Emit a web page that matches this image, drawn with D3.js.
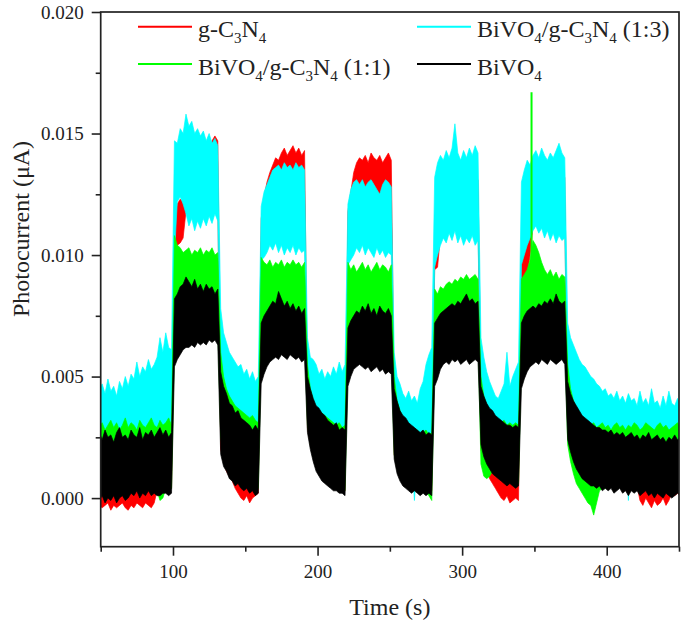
<!DOCTYPE html>
<html><head><meta charset="utf-8">
<script src="https://cdn.jsdelivr.net/npm/d3@7"></script>
<style>
body{margin:0;background:#fff}
text{font-family:"Liberation Serif","Times New Roman",serif;fill:#222;white-space:pre}
</style>
</head><body>
<svg id="chart" width="685" height="626"></svg>
<script>
// ---------- DATA (time in s, photocurrent in µA; each series given as lower / upper envelope of its noisy trace) ----------
const time = [
 49,51,53,55,57,59,61,63,65,67,69,71,73,75,77,79,81,83,85,87,89,91,93,95,97,99,
 101,103,105,107,109,111,113,115,117,119,121,123,125,127,129,131,
 133,135,137,139,141,143,145,147,149,151,153,155,157,159,
 161,163,165,167,169,171,173,175,177,179,181,183,185,187,189,191,
 193,195,197,199,201,203,205,207,209,211,213,215,217,219,
 221,223,225,227,229,231,233,235,237,239,241,243,245,247,249,251,
 253,255,257,259,261,263,265,267,269,271,273,275,277,279,
 281,283,285,287,289,291,293,295,297,299,301,303,305,307,309,311,
 313,315,317,319,321,323,325,327,329,331,333,335,337,339,
 341,343,345,347,349,351,353,355,357,359,361,363,365,367,369,371,
 373,375,377,379,381,383,385,387,389,391,393,395,397,399,401,403,405,407,409,411,
 413,415,417,419,421,423,425,427,429,431,433,435,437,439,441,443,445,447,449,451
];

const seriesNames = ["g-C3N4", "BiVO4/g-C3N4 (1:3)", "BiVO4/g-C3N4 (1:1)", "BiVO4"];

// g-C3N4
const redLow = [
 -0.0003,-0.0004,-0.0003,-0.0002,-0.0005,-0.0003,-0.0004,-0.0003,-0.0002,-0.0004,
 -0.0005,-0.0003,-0.0004,-0.0002,-0.0003,-0.0004,-0.0002,-0.0003,-0.0004,-0.0002,
 0.0003,0.0003,0.0004,0.0004,0.0003,0.0004,
 0.0095,0.0104,0.0105,0.0107,0.0118,0.0120,0.0121,0.0122,0.0121,0.0123,0.0122,0.0121,0.0123,0.0122,0.0121,0.0122,
 0.0020,0.0015,0.0011,0.0009,0.0007,0.0004,0.0002,0.0000,-0.0001,0.0001,-0.0002,0.0000,0.0001,0.0002,
 0.0105,0.0112,0.0116,0.0118,0.0120,0.0119,0.0121,0.0120,0.0122,0.0121,0.0120,0.0122,0.0121,0.0120,0.0122,0.0121,
 0.0029,0.0022,0.0017,0.0013,0.0011,0.0009,0.0008,0.0007,0.0006,0.0005,0.0005,0.0004,0.0004,0.0003,
 0.0105,0.0110,0.0114,0.0116,0.0118,0.0117,0.0119,0.0118,0.0120,0.0119,0.0118,0.0120,0.0119,0.0118,0.0120,0.0119,
 0.0018,0.0012,0.0009,0.0007,0.0006,0.0005,0.0004,0.0005,0.0004,0.0003,0.0004,0.0003,0.0004,0.0003,
 0.0094,0.0095,0.0108,0.0110,0.0112,0.0113,0.0114,0.0113,0.0115,0.0114,0.0113,0.0115,0.0114,0.0113,0.0115,0.0114,
 0.0020,0.0015,0.0012,0.0008,0.0006,0.0004,0.0002,0.0000,-0.0001,0.0001,-0.0002,-0.0001,0.0000,-0.0001,
 0.0088,0.0089,0.0092,0.0100,0.0112,0.0114,0.0115,0.0114,0.0116,0.0115,0.0114,0.0116,0.0115,0.0114,0.0116,0.0115,
 0.0026,0.0021,0.0017,0.0014,0.0012,0.0010,0.0009,0.0008,0.0007,0.0007,
 0.0006,0.0007,0.0005,0.0006,0.0005,0.0006,0.0004,0.0005,0.0006,0.0004,
 0.0005,0.0003,0.0005,0.0004,0.0005,-0.0001,-0.0003,0.0000,-0.0002,-0.0004,
 -0.0001,-0.0003,-0.0002,0.0000,-0.0003,-0.0001,0.0002,0.0001,0.0002,0.0001
];
const redHigh = [
 0.0015,0.0016,0.0014,0.0015,0.0016,0.0014,0.0015,0.0016,0.0015,0.0014,
 0.0016,0.0015,0.0014,0.0015,0.0016,0.0015,0.0014,0.0015,0.0016,0.0015,
 0.0016,0.0015,0.0016,0.0017,0.0016,0.0017,
 0.0112,0.0121,0.0123,0.0122,0.0126,0.0128,0.0130,0.0132,0.0134,0.0136,0.0138,0.0140,0.0141,0.0147,0.0149,0.0147,
 0.0045,0.0035,0.0028,0.0024,0.0020,0.0018,0.0017,0.0016,0.0015,0.0015,0.0014,0.0015,0.0014,0.0015,
 0.0115,0.0124,0.0130,0.0134,0.0137,0.0140,0.0139,0.0142,0.0144,0.0141,0.0143,0.0145,0.0142,0.0144,0.0141,0.0143,
 0.0045,0.0035,0.0028,0.0024,0.0020,0.0018,0.0017,0.0016,0.0015,0.0015,0.0014,0.0015,0.0014,0.0015,
 0.0118,0.0126,0.0134,0.0138,0.0140,0.0139,0.0141,0.0138,0.0142,0.0140,0.0139,0.0141,0.0138,0.0140,0.0142,0.0139,
 0.0040,0.0032,0.0026,0.0022,0.0019,0.0017,0.0016,0.0015,0.0015,0.0014,0.0015,0.0014,0.0015,0.0016,
 0.0104,0.0106,0.0112,0.0118,0.0121,0.0123,0.0125,0.0126,0.0127,0.0128,0.0128,0.0129,0.0130,0.0130,0.0131,0.0131,
 0.0045,0.0035,0.0028,0.0024,0.0020,0.0018,0.0017,0.0016,0.0015,0.0015,0.0014,0.0015,0.0014,0.0015,
 0.0100,0.0104,0.0106,0.0107,0.0115,0.0120,0.0123,0.0125,0.0127,0.0128,0.0129,0.0130,0.0130,0.0131,0.0131,0.0132,
 0.0045,0.0035,0.0028,0.0024,0.0020,0.0018,0.0017,0.0016,0.0015,0.0015,
 0.0014,0.0015,0.0014,0.0015,0.0016,0.0015,0.0014,0.0015,0.0014,0.0015,
 0.0014,0.0015,0.0016,0.0015,0.0014,0.0015,0.0014,0.0015,0.0014,0.0015,
 0.0016,0.0015,0.0014,0.0015,0.0014,0.0015,0.0014,0.0015,0.0014,0.0015
];

// BiVO4/g-C3N4 (1:3)
const cyanLow = [
 0.0020,0.0022,0.0019,0.0021,0.0020,0.0023,0.0021,0.0020,0.0022,0.0019,
 0.0021,0.0020,0.0022,0.0021,0.0020,0.0023,0.0021,0.0022,0.0020,0.0021,
 0.0023,0.0022,0.0021,0.0022,0.0023,0.0022,
 0.0100,0.0122,0.0124,0.0121,0.0117,0.0112,0.0115,0.0110,0.0114,0.0111,0.0115,0.0112,0.0116,0.0113,0.0117,0.0114,
 0.0045,0.0035,0.0030,0.0027,0.0025,0.0024,0.0023,0.0022,0.0022,0.0021,0.0022,0.0021,0.0020,0.0021,
 0.0098,0.0099,0.0101,0.0104,0.0102,0.0105,0.0101,0.0104,0.0100,0.0103,0.0101,0.0104,0.0100,0.0103,0.0101,0.0102,
 0.0045,0.0035,0.0030,0.0027,0.0025,0.0024,0.0023,0.0022,0.0022,0.0021,0.0022,0.0021,0.0020,0.0021,
 0.0096,0.0098,0.0100,0.0103,0.0101,0.0104,0.0100,0.0103,0.0101,0.0099,0.0103,0.0100,0.0102,0.0099,0.0101,0.0100,
 0.0040,0.0032,0.0028,0.0025,0.0023,0.0021,0.0020,-0.0001,0.0019,0.0020,0.0021,0.0020,0.0021,0.0020,
 0.0095,0.0100,0.0104,0.0107,0.0105,0.0109,0.0106,0.0110,0.0105,0.0108,0.0104,0.0107,0.0105,0.0108,0.0104,0.0106,
 0.0045,0.0035,0.0030,0.0027,0.0025,0.0024,0.0023,0.0022,0.0022,0.0021,0.0022,0.0021,0.0020,0.0021,
 0.0096,0.0100,0.0104,0.0107,0.0110,0.0112,0.0109,0.0111,0.0107,0.0110,0.0106,0.0109,0.0105,0.0108,0.0106,0.0107,
 0.0045,0.0035,0.0030,0.0027,0.0025,0.0024,0.0023,0.0022,0.0022,0.0021,
 0.0022,0.0021,0.0020,0.0021,0.0022,0.0020,0.0021,0.0022,0.0021,0.0020,
 0.0021,-0.0001,0.0021,0.0022,0.0021,0.0020,0.0022,0.0021,0.0020,0.0021,
 0.0022,0.0020,0.0021,0.0020,0.0022,0.0021,0.0020,0.0021,0.0022,0.0021
];
const cyanHigh = [
 0.0044,0.0047,0.0043,0.0049,0.0044,0.0046,0.0042,0.0048,0.0045,0.0050,
 0.0046,0.0051,0.0049,0.0056,0.0050,0.0054,0.0052,0.0057,0.0053,0.0055,
 0.0058,0.0066,0.0060,0.0068,0.0062,0.0061,
 0.0147,0.0146,0.0152,0.0150,0.0158,0.0153,0.0155,0.0150,0.0152,0.0149,0.0151,0.0147,0.0150,0.0146,0.0148,0.0145,
 0.0078,0.0068,0.0064,0.0060,0.0058,0.0056,0.0054,0.0055,0.0051,0.0053,0.0049,0.0052,0.0048,0.0050,
 0.0120,0.0126,0.0129,0.0132,0.0135,0.0136,0.0137,0.0135,0.0138,0.0136,0.0137,0.0135,0.0138,0.0136,0.0137,0.0135,
 0.0066,0.0058,0.0057,0.0055,0.0051,0.0053,0.0049,0.0052,0.0050,0.0054,0.0051,0.0056,0.0052,0.0055,
 0.0121,0.0127,0.0130,0.0131,0.0129,0.0131,0.0128,0.0130,0.0131,0.0129,0.0127,0.0125,0.0129,0.0131,0.0130,0.0128,
 0.0060,0.0050,0.0047,0.0043,0.0041,0.0044,0.0040,0.0042,0.0039,0.0045,0.0048,0.0055,0.0059,0.0062,
 0.0132,0.0138,0.0141,0.0139,0.0143,0.0140,0.0144,0.0154,0.0142,0.0139,0.0143,0.0140,0.0144,0.0141,0.0145,0.0142,
 0.0066,0.0058,0.0052,0.0048,0.0045,0.0042,0.0041,0.0044,0.0047,0.0060,0.0046,0.0050,0.0053,0.0056,
 0.0130,0.0135,0.0139,0.0137,0.0141,0.0143,0.0140,0.0144,0.0141,0.0139,0.0142,0.0140,0.0143,0.0146,0.0142,0.0140,
 0.0072,0.0066,0.0063,0.0060,0.0057,0.0055,0.0054,0.0052,0.0050,0.0049,
 0.0047,0.0046,0.0044,0.0045,0.0042,0.0043,0.0041,0.0044,0.0040,0.0042,
 0.0039,0.0043,0.0040,0.0041,0.0038,0.0044,0.0039,0.0041,0.0038,0.0045,
 0.0039,0.0040,0.0037,0.0042,0.0038,0.0044,0.0039,0.0038,0.0041,0.0038
];

// BiVO4/g-C3N4 (1:1)
const greenLow = [
 0.0001,0.0003,0.0000,0.0002,0.0001,0.0003,0.0000,0.0002,0.0003,0.0001,
 0.0002,0.0004,0.0003,0.0005,0.0002,0.0004,0.0003,0.0005,0.0003,0.0004,
 0.0003,-0.0001,0.0000,0.0004,0.0003,0.0004,
 0.0062,0.0066,0.0068,0.0070,0.0070,0.0071,0.0070,0.0072,0.0071,0.0070,0.0072,0.0071,0.0070,0.0071,0.0072,0.0070,
 0.0025,0.0018,0.0014,0.0011,0.0009,0.0008,0.0007,0.0006,0.0005,0.0005,0.0004,0.0005,0.0004,0.0004,
 0.0060,0.0062,0.0064,0.0066,0.0067,0.0066,0.0068,0.0067,0.0066,0.0068,0.0067,0.0066,0.0068,0.0067,0.0066,0.0067,
 0.0030,0.0022,0.0017,0.0013,0.0011,0.0009,0.0008,0.0007,0.0006,0.0005,0.0005,0.0004,0.0004,0.0003,
 0.0058,0.0060,0.0062,0.0063,0.0062,0.0063,0.0062,0.0063,0.0062,0.0063,0.0062,0.0061,0.0062,0.0061,0.0062,0.0061,
 0.0018,0.0012,0.0009,0.0007,0.0006,0.0005,0.0004,0.0005,0.0004,0.0003,0.0004,0.0003,0.0001,-0.0001,
 0.0058,0.0060,0.0062,0.0064,0.0065,0.0066,0.0065,0.0066,0.0067,0.0066,0.0065,0.0066,0.0067,0.0066,0.0065,0.0066,
 0.0014,0.0009,0.0008,0.0009,0.0011,0.0010,0.0009,0.0008,0.0007,0.0006,0.0007,0.0006,0.0005,0.0006,
 0.0058,0.0060,0.0062,0.0063,0.0065,0.0064,0.0066,0.0065,0.0064,0.0066,0.0065,0.0064,0.0065,0.0066,0.0064,0.0065,
 0.0022,0.0015,0.0010,0.0006,0.0004,0.0002,0.0000,-0.0002,-0.0003,-0.0007,
 -0.0002,0.0003,0.0004,0.0004,0.0004,0.0005,0.0003,0.0004,0.0005,0.0003,
 0.0004,0.0003,0.0004,0.0003,0.0004,0.0003,0.0004,0.0004,0.0003,0.0004,
 0.0002,0.0003,0.0003,0.0002,0.0003,0.0002,0.0003,0.0002,0.0003,0.0002
];
const greenHigh = [
 0.0029,0.0031,0.0028,0.0030,0.0032,0.0029,0.0031,0.0028,0.0030,0.0033,
 0.0029,0.0031,0.0030,0.0028,0.0032,0.0030,0.0029,0.0031,0.0033,0.0030,
 0.0029,0.0032,0.0030,0.0031,0.0033,0.0030,
 0.0108,0.0104,0.0103,0.0101,0.0102,0.0103,0.0100,0.0102,0.0101,0.0103,0.0100,0.0102,0.0101,0.0103,0.0100,0.0101,
 0.0060,0.0050,0.0045,0.0042,0.0040,0.0038,0.0037,0.0036,0.0035,0.0034,0.0033,0.0034,0.0032,0.0031,
 0.0099,0.0097,0.0096,0.0098,0.0095,0.0097,0.0096,0.0098,0.0095,0.0097,0.0096,0.0098,0.0096,0.0097,0.0095,0.0097,
 0.0055,0.0045,0.0040,0.0037,0.0036,0.0035,0.0034,0.0033,0.0032,0.0031,0.0030,0.0031,0.0029,0.0030,
 0.0097,0.0094,0.0096,0.0093,0.0095,0.0097,0.0094,0.0096,0.0093,0.0095,0.0097,0.0094,0.0096,0.0095,0.0093,0.0096,
 0.0050,0.0040,0.0036,0.0033,0.0031,0.0029,0.0028,0.0027,0.0028,0.0026,0.0027,0.0028,0.0026,0.0027,
 0.0086,0.0084,0.0087,0.0086,0.0088,0.0089,0.0088,0.0090,0.0089,0.0091,0.0090,0.0092,0.0090,0.0091,0.0092,0.0090,
 0.0050,0.0042,0.0038,0.0035,0.0034,0.0033,0.0032,0.0031,0.0032,0.0030,0.0031,0.0030,0.0031,0.0030,
 0.0090,0.0092,0.0094,0.0098,0.0106,0.0104,0.0101,0.0097,0.0094,0.0092,0.0094,0.0091,0.0093,0.0090,0.0092,0.0091,
 0.0055,0.0045,0.0040,0.0037,0.0035,0.0033,0.0032,0.0031,0.0030,0.0031,
 0.0029,0.0030,0.0031,0.0029,0.0030,0.0028,0.0030,0.0031,0.0029,0.0030,
 0.0028,0.0030,0.0029,0.0031,0.0030,0.0028,0.0029,0.0031,0.0030,0.0029,
 0.0028,0.0030,0.0031,0.0029,0.0030,0.0028,0.0029,0.0030,0.0031,0.0029
];
// single narrow spike of the (1:1) trace
const greenSpikeTime = [348];
const greenSpikeLow = [0.0092];
const greenSpikeHigh = [0.0167];

// BiVO4
const blackLow = [
 -0.0001,0.0001,-0.0002,0.0000,-0.0001,0.0001,-0.0002,0.0000,0.0001,-0.0001,
 0.0000,0.0002,0.0001,0.0003,0.0000,0.0002,0.0001,0.0003,0.0001,0.0002,
 0.0001,0.0001,0.0002,0.0002,0.0001,0.0002,
 0.0054,0.0057,0.0059,0.0061,0.0062,0.0062,0.0063,0.0062,0.0064,0.0063,0.0064,0.0063,0.0065,0.0064,0.0065,0.0063,
 0.0018,0.0013,0.0011,0.0008,0.0007,0.0005,0.0006,0.0004,0.0003,0.0004,0.0002,0.0003,0.0001,0.0002,
 0.0047,0.0051,0.0054,0.0056,0.0057,0.0058,0.0057,0.0059,0.0058,0.0057,0.0059,0.0058,0.0057,0.0058,0.0056,0.0057,
 0.0027,0.0020,0.0015,0.0011,0.0009,0.0007,0.0006,0.0005,0.0004,0.0003,0.0003,0.0002,0.0002,0.0001,
 0.0046,0.0050,0.0053,0.0054,0.0055,0.0054,0.0053,0.0054,0.0052,0.0053,0.0054,0.0052,0.0053,0.0051,0.0052,0.0051,
 0.0016,0.0010,0.0007,0.0005,0.0004,0.0003,0.0002,0.0003,0.0002,0.0001,0.0002,0.0001,0.0002,0.0001,
 0.0046,0.0049,0.0053,0.0055,0.0056,0.0055,0.0057,0.0056,0.0057,0.0055,0.0056,0.0057,0.0055,0.0056,0.0057,0.0056,
 0.0022,0.0017,0.0014,0.0012,0.0010,0.0009,0.0008,0.0007,0.0006,0.0005,0.0006,0.0005,0.0004,0.0005,
 0.0045,0.0049,0.0052,0.0054,0.0055,0.0056,0.0055,0.0057,0.0056,0.0055,0.0057,0.0056,0.0055,0.0056,0.0057,0.0055,
 0.0024,0.0019,0.0015,0.0012,0.0010,0.0008,0.0007,0.0006,0.0005,0.0005,
 0.0004,0.0005,0.0003,0.0004,0.0003,0.0004,0.0002,0.0003,0.0004,0.0002,
 0.0003,0.0001,0.0003,0.0002,0.0003,0.0001,0.0002,0.0003,0.0001,0.0002,
 0.0000,0.0002,0.0001,0.0000,0.0002,0.0001,0.0000,0.0001,0.0002,0.0001
];
const blackHigh = [
 0.0027,0.0024,0.0028,0.0025,0.0026,0.0023,0.0027,0.0029,0.0025,0.0026,
 0.0024,0.0028,0.0026,0.0025,0.0029,0.0024,0.0027,0.0026,0.0028,0.0025,
 0.0027,0.0029,0.0026,0.0028,0.0025,0.0027,
 0.0082,0.0084,0.0087,0.0088,0.0091,0.0089,0.0087,0.0090,0.0086,0.0088,0.0085,0.0088,0.0086,0.0087,0.0084,0.0086,
 0.0052,0.0046,0.0043,0.0039,0.0038,0.0035,0.0036,0.0033,0.0032,0.0031,0.0030,0.0028,0.0030,0.0028,
 0.0072,0.0075,0.0077,0.0079,0.0081,0.0080,0.0085,0.0082,0.0079,0.0081,0.0078,0.0080,0.0077,0.0079,0.0076,0.0078,
 0.0050,0.0045,0.0041,0.0038,0.0037,0.0035,0.0034,0.0032,0.0031,0.0030,0.0031,0.0028,0.0029,0.0028,
 0.0070,0.0073,0.0075,0.0077,0.0076,0.0079,0.0077,0.0080,0.0076,0.0078,0.0075,0.0079,0.0077,0.0076,0.0078,0.0075,
 0.0045,0.0040,0.0036,0.0034,0.0033,0.0031,0.0030,0.0029,0.0028,0.0027,0.0028,0.0026,0.0027,0.0026,
 0.0072,0.0074,0.0076,0.0077,0.0078,0.0079,0.0080,0.0079,0.0081,0.0080,0.0082,0.0084,0.0081,0.0082,0.0080,0.0081,
 0.0046,0.0042,0.0039,0.0037,0.0036,0.0034,0.0033,0.0032,0.0031,0.0030,0.0030,0.0029,0.0030,0.0029,
 0.0072,0.0075,0.0077,0.0078,0.0079,0.0078,0.0080,0.0079,0.0081,0.0080,0.0082,0.0080,0.0084,0.0081,0.0080,0.0081,
 0.0048,0.0043,0.0040,0.0038,0.0036,0.0034,0.0033,0.0032,0.0031,0.0030,
 0.0029,0.0029,0.0028,0.0028,0.0027,0.0028,0.0026,0.0027,0.0026,0.0027,
 0.0025,0.0026,0.0027,0.0025,0.0026,0.0024,0.0026,0.0025,0.0027,0.0024,
 0.0025,0.0026,0.0024,0.0025,0.0023,0.0025,0.0024,0.0026,0.0024,0.0025
];

// axis ticks
const xMajorTicks = [100, 200, 300, 400];
const xMinorTicks = [50, 150, 250, 350, 450];
const yMajorTicks = [0, 0.005, 0.010, 0.015, 0.020];
const yMinorTicks = [0.0025, 0.0075, 0.0125, 0.0175];

// ---------- DRAWING ----------
const svg = d3.select("#chart");
svg.append("rect").attr("width", 685).attr("height", 626).attr("fill", "#fff");

const plot = {left: 100.7, right: 679, top: 12, bottom: 546.7};
const x = d3.scaleLinear().domain([50, 450]).range([plot.left, plot.right]);
const y = d3.scaleLinear().domain([-0.002, 0.020]).range([plot.bottom, plot.top]);

svg.append("clipPath").attr("id", "clip").append("rect")
  .attr("x", plot.left).attr("y", plot.top)
  .attr("width", plot.right - plot.left).attr("height", plot.bottom - plot.top);

const series = [
  {name: seriesNames[0], low: redLow,   high: redHigh,   color: "#ff0000"},
  {name: seriesNames[1], low: cyanLow,  high: cyanHigh,  color: "#00ffff"},
  {name: seriesNames[2], low: greenLow, high: greenHigh, color: "#00ff00"},
  {name: seriesNames[3], low: blackLow, high: blackHigh, color: "#000000"}
];

const area = d3.area()
  .x(d => x(d.t)).y0(d => y(d.lo)).y1(d => y(d.hi));

const gData = svg.append("g").attr("clip-path", "url(#clip)");
series.forEach(s => {
  const rows = time.map((t, i) => ({t, lo: s.low[i], hi: s.high[i]}));
  gData.append("path").datum(rows)
    .attr("d", area)
    .attr("fill", s.color)
    .attr("stroke", s.color).attr("stroke-width", 0.7).attr("stroke-linejoin", "miter");
  if (s.color === "#00ff00") {
    const line = d3.line().x(d => x(d.t)).y(d => y(d.v));
    greenSpikeTime.forEach((t, i) => {
      gData.append("path")
        .datum([{t, v: greenSpikeLow[i]}, {t, v: greenSpikeHigh[i]}])
        .attr("d", line).attr("stroke", s.color).attr("stroke-width", 2).attr("fill", "none");
    });
  }
});

// frame
const axisColor = "#222";
svg.append("rect")
  .attr("x", x(50)).attr("y", y(0.020))
  .attr("width", x(450) - x(50)).attr("height", y(-0.002) - y(0.020))
  .attr("fill", "none").attr("stroke", axisColor).attr("stroke-width", 1.7);

// y axis
const yAxis = svg.append("g").attr("transform", `translate(${plot.left},0)`)
  .call(d3.axisLeft(y).tickValues(yMajorTicks).tickSize(9).tickPadding(8).tickFormat(d3.format(".3f")));
yAxis.select(".domain").remove();
yAxis.selectAll(".tick line").attr("stroke", axisColor).attr("stroke-width", 1.6);
yAxis.selectAll(".tick text").attr("font-size", 19).attr("font-family", "Liberation Serif, serif").attr("fill", "#222");
const yMinor = svg.append("g").attr("transform", `translate(${plot.left},0)`)
  .call(d3.axisLeft(y).tickValues(yMinorTicks).tickSize(5).tickFormat(""));
yMinor.select(".domain").remove();
yMinor.selectAll(".tick line").attr("stroke", axisColor).attr("stroke-width", 1.6);

// x axis
const xAxis = svg.append("g").attr("transform", `translate(0,${plot.bottom})`)
  .call(d3.axisBottom(x).tickValues(xMajorTicks).tickSize(9).tickPadding(9).tickFormat(d3.format("d")));
xAxis.select(".domain").remove();
xAxis.selectAll(".tick line").attr("stroke", axisColor).attr("stroke-width", 1.6);
xAxis.selectAll(".tick text").attr("font-size", 19).attr("font-family", "Liberation Serif, serif").attr("fill", "#222");
const xMinor = svg.append("g").attr("transform", `translate(0,${plot.bottom})`)
  .call(d3.axisBottom(x).tickValues(xMinorTicks).tickSize(5).tickFormat(""));
xMinor.select(".domain").remove();
xMinor.selectAll(".tick line").attr("stroke", axisColor).attr("stroke-width", 1.6);

// axis titles
svg.append("text").attr("x", (plot.left + plot.right) / 2).attr("y", 615)
  .attr("text-anchor", "middle").attr("font-size", 24).text("Time (s)");
svg.append("text").attr("transform", "translate(29,229) rotate(-90)")
  .attr("text-anchor", "middle").attr("font-size", 24).text("Photocurrent (\u03bcA)");

// legend
const legendParts = [
  [["g-C", 0], ["3", 1], ["N", 0], ["4", 1]],
  [["BiVO", 0], ["4", 1], ["/g-C", 0], ["3", 1], ["N", 0], ["4", 1], [" (1:3)", 0]],
  [["BiVO", 0], ["4", 1], ["/g-C", 0], ["3", 1], ["N", 0], ["4", 1], [" (1:1)", 0]],
  [["BiVO", 0], ["4", 1]]
];
const legendCols = [138, 417], legendRows = [26.7, 64], lineLen = 54;
series.forEach((s, i) => {
  const col = i % 2, row = Math.floor(i / 2);
  const lx = legendCols[col], ly = legendRows[row];
  svg.append("line").attr("x1", lx).attr("x2", lx + lineLen).attr("y1", ly).attr("y2", ly)
    .attr("stroke", s.color).attr("stroke-width", 2);
  const t = svg.append("text").attr("x", lx + lineLen + 6).attr("y", ly + 10.5).attr("font-size", 24);
  let shifted = false;
  legendParts[i].forEach(([str, sub]) => {
    const ts = t.append("tspan").text(str);
    if (sub && !shifted) { ts.attr("dy", 6).attr("font-size", 15); shifted = true; }
    else if (sub) { ts.attr("font-size", 15); }
    else if (shifted) { ts.attr("dy", -6); shifted = false; }
  });
});
</script>
</body></html>
